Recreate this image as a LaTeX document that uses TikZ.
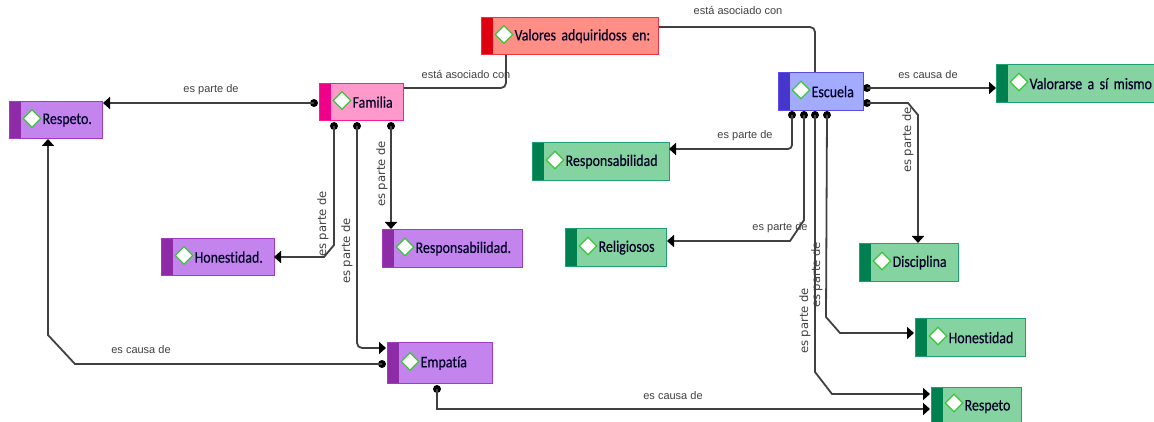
\documentclass[tikz,border=0pt]{standalone}
\usepackage{fontspec}
\setmainfont[FakeStretch=0.86,Ligatures={NoCommon},FakeBold=0.25,WordSpace=0.65]{Carlito}
\newfontfamily\lblfont{Liberation Sans}
\newfontfamily\rotfont{DejaVu Sans}
\usetikzlibrary{shapes.geometric,arrows.meta}
\definecolor{redF}{HTML}{FF8F86}\definecolor{redB}{HTML}{DE0010}\definecolor{redL}{HTML}{EE3340}
\definecolor{pinkF}{HTML}{FF99CC}\definecolor{pinkB}{HTML}{EE0088}\definecolor{pinkL}{HTML}{F02095}
\definecolor{bluF}{HTML}{A3ABFF}\definecolor{bluB}{HTML}{4636CC}\definecolor{bluL}{HTML}{5A4CDD}
\definecolor{grnF}{HTML}{85D3A0}\definecolor{grnB}{HTML}{008050}\definecolor{grnL}{HTML}{1FA070}
\definecolor{purF}{HTML}{C484EE}\definecolor{purB}{HTML}{8E2CA8}\definecolor{purL}{HTML}{A03CC0}
\definecolor{wire}{HTML}{404040}
\tikzset{
  mapbox/.style={draw=#1L,fill=#1F,line width=1.2pt,inner xsep=0pt,inner ysep=0pt,anchor=north west,
    align=left,font=\fontsize{16.2}{18}\selectfont,text=black!85!blue,
    path picture={\fill[#1B] (path picture bounding box.south west) rectangle ([xshift=11.5pt]path picture bounding box.north west);}},
  gem/.style={shape=diamond,draw=green!55!gray,fill=white,line width=1.2pt,minimum width=18pt,minimum height=18pt,inner sep=0pt},
  pin/.style={shape=circle,fill=black,inner sep=0pt,minimum size=8pt},
  wireline/.style={draw=wire,line width=1.8pt},
  arrowline/.style={wireline,-{Triangle[length=7pt,width=12pt,color=black]}},
  lbl/.style={font=\lblfont\fontsize{11}{12}\selectfont,text=black!75,inner sep=0pt},
  rotlbl/.style={font=\rotfont\fontsize{11.6}{12}\selectfont,text=black!75,inner sep=0pt,rotate=90}
}
\newcommand{\mapnode}[8][0]{%
  \pgfmathsetmacro{\mw}{#5-#3}\pgfmathsetmacro{\mh}{#6-#4}%
  \node[mapbox=#7,minimum width=\mw pt,minimum height=\mh pt,text width=\mw pt] (#2) at (#3,#4) {\hspace*{33pt}\raisebox{#1pt}{\mbox{#8}}};
  \node[gem] (#2g) at ({#3+23},{(#4+#6)/2-1-#1}) {};
}
\begin{document}
\begin{tikzpicture}[x=1pt,y=-1pt]
\useasboundingbox (0,0) rectangle (1154,422);
\clip (0,0) rectangle (1154,422);
% pins
\node[pin] (pFamL) at (314,103) {};
\node[pin] (pFam1) at (334,126) {};
\node[pin] (pFam2) at (357,126) {};
\node[pin] (pFam3) at (391,126) {};
\node[pin] (pEmpL) at (382,364) {};
\node[pin] (pEmpB) at (437,389) {};
\node[pin] (pEscR1) at (867,88) {};
\node[pin] (pEscR2) at (867,103) {};
\node[pin] (pEsc1) at (792,115) {};
\node[pin] (pEsc2) at (804,115) {};
\node[pin] (pEsc3) at (815,115) {};
\node[pin] (pEsc4) at (827,115) {};
% targets
\coordinate (tRes) at (103,103);
\coordinate (tResB) at (48,139);
\coordinate (tHon) at (274,257);
\coordinate (tRsp) at (391,229);
\coordinate (tEmp) at (386,348);
\coordinate (tVal) at (996,88);
\coordinate (tDis) at (918,243);
\coordinate (tGRs) at (669,149);
\coordinate (tRel) at (667,241);
\coordinate (tGHo) at (914,333);
\coordinate (tGR1) at (930,394);
\coordinate (tGR2) at (930,409);
% boxes
\mapnode{val}{481}{17}{658}{54}{red}{Valores adquiridoss en:}
\mapnode{fam}{319}{83}{403}{120}{pink}{Familia}
\mapnode{esc}{778}{72}{863}{110}{blu}{Escuela}
\mapnode{vsm}{996}{64}{1160}{102}{grn}{Valorarse a sí mismo}
\mapnode{res}{9}{101}{102}{138}{pur}{Respeto.}
\mapnode{hon}{161}{238}{274}{275}{pur}{Honestidad.}
\mapnode{rsp}{382}{229}{522}{267}{pur}{Responsabilidad.}
\mapnode{emp}{387}{342}{492}{383}{pur}{Empatía}
\mapnode{grs}{532}{142}{669}{180}{grn}{Responsabilidad}
\mapnode{rel}{565}{228}{666}{266}{grn}{Religiosos}
\mapnode{dis}{859}{243}{958}{281}{grn}{Disciplina}
\mapnode{gho}{915}{318}{1025}{356}{grn}{Honestidad}
\mapnode[2]{gre}{931}{387}{1021}{425}{grn}{Respeto}
% connectors
\draw[wireline,rounded corners=5pt] (fam.east |- 0,88) -- (506,88) -- (val.south -| 506,0);
\draw[wireline,rounded corners=5pt] (val.east |- 0,27) -- (815,27) -- (esc.north -| 815,0);
\draw[arrowline] (pFamL.center) -- (tRes);
\draw[arrowline] (pFam1.center) -- ++(0,119) -- ++(-10,12) -- (tHon);
\draw[arrowline,rounded corners=5pt] (pFam2.center) -- (357,348) -- (tEmp);
\draw[arrowline] (pFam3.center) -- (tRsp);
\draw[arrowline] (pEmpL.center) -- (75,364) -- (48,335) -- (tResB);
\draw[arrowline] (pEmpB.center) -- (437,409) -- (tGR2);
\draw[arrowline] (pEscR1.center) -- (tVal);
\draw[arrowline] (pEscR2.center) -- (908,103) -- (918,115) -- (tDis);
\draw[arrowline,rounded corners=4pt] (pEsc1.center) -- (792,149) -- (tGRs);
\draw[arrowline] (pEsc2.center) -- (804,220) -- (790,241) -- (tRel);
\draw[arrowline] (pEsc3.center) -- (815,372) -- (832,394) -- (tGR1);
\draw[arrowline] (pEsc4.center) -- (826,317) -- (840,333) -- (tGHo);
% labels
\node[lbl] (l1) at (466,75) {está asociado con};
\node[lbl] (l2) at (738,11) {está asociado con};
\node[lbl] (l3) at (211,90) {es parte de};
\node[lbl] (l4) at (928,75) {es causa de};
\node[lbl] (l5) at (745,136) {es parte de};
\node[lbl] (l6) at (780,228) {es parte de};
\node[lbl] (l7) at (141,350) {es causa de};
\node[lbl] (l8) at (673,396) {es causa de};
\node[rotlbl] (r1) at (908,140) {es parte de};
\node[rotlbl] (r2) at (323,224) {es parte de};
\node[rotlbl] (r3) at (347,251) {es parte de};
\node[rotlbl] (r4) at (382,174) {es parte de};
\node[rotlbl] (r5) at (805,321) {es parte de};
\node[rotlbl] (r6) at (817,275) {es parte de};
\end{tikzpicture}
\end{document}
